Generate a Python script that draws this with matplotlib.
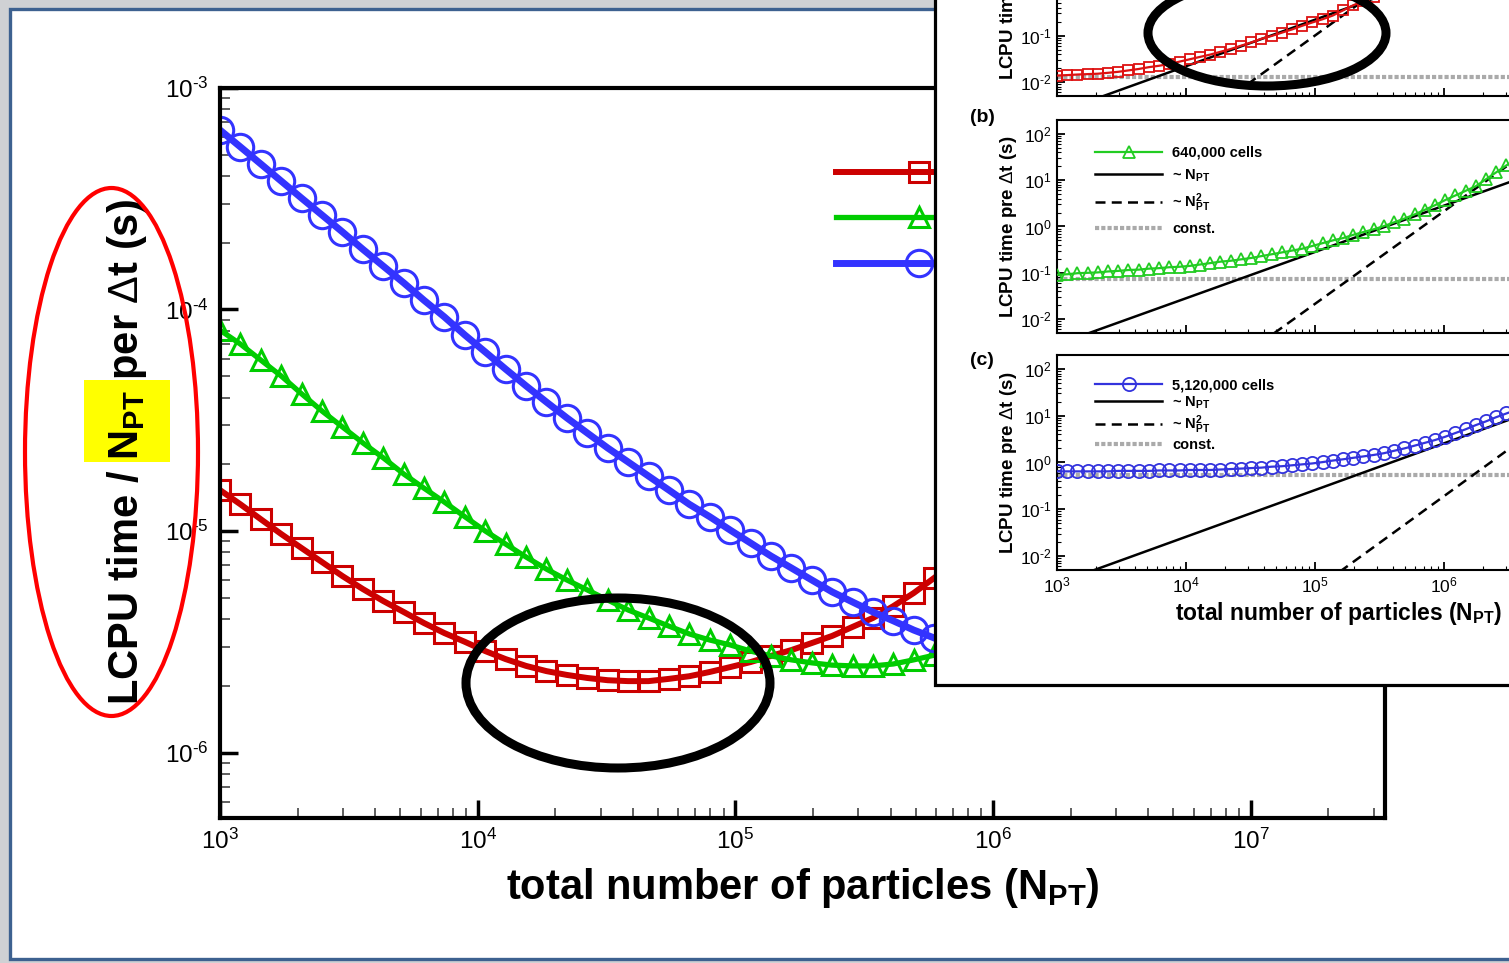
import numpy as np
import matplotlib
matplotlib.use('Agg')
import matplotlib.pyplot as plt
from matplotlib.patches import Ellipse, Rectangle
from matplotlib.ticker import FuncFormatter

plt.rcParams['font.family'] = ['Liberation Sans', 'DejaVu Sans']
plt.rcParams['mathtext.fontset'] = 'custom'
plt.rcParams['mathtext.rm'] = 'Liberation Sans'
plt.rcParams['mathtext.bf'] = 'Liberation Sans:bold'
plt.rcParams['mathtext.it'] = 'Liberation Sans:italic'
plt.rcParams['axes.unicode_minus'] = False

W, H = 1509, 963

# ---- data ----
n_pt = [1000, 1200, 1440, 1728, 2074, 2488, 2986, 3583, 4300, 5160,
        6192, 7430, 8916, 10699, 12839, 15407, 18488, 22186, 26623, 31948,
        38338, 46005, 55206, 66247, 79497, 95396, 114475, 137370, 164845, 197814,
        237376, 284852, 341822, 410186, 492224, 590668, 708802, 850562, 1020675, 1224810,
        1469772, 1763726, 2116471, 2539765, 3047718, 3657262]

cell_labels = ['80,000 cells', '640,000 cells', '5,120,000 cells']

# main chart: LCPU time / N_PT per dt (s)
main_red = [1.53e-5, 1.32e-5, 1.13e-5, 9.69e-6, 8.37e-6, 7.24e-6, 6.26e-6, 5.47e-6, 4.83e-6, 4.31e-6,
            3.84e-6, 3.46e-6, 3.16e-6, 2.87e-6, 2.64e-6, 2.46e-6, 2.33e-6, 2.24e-6, 2.17e-6, 2.12e-6,
            2.10e-6, 2.10e-6, 2.15e-6, 2.21e-6, 2.31e-6, 2.43e-6, 2.56e-6, 2.73e-6, 2.90e-6, 3.12e-6,
            3.36e-6, 3.69e-6, 4.05e-6, 4.58e-6, 5.25e-6, 6.14e-6]
main_green = [8.07e-5, 6.98e-5, 5.91e-5, 5.01e-5, 4.16e-5, 3.48e-5, 2.95e-5, 2.50e-5, 2.14e-5, 1.81e-5,
              1.56e-5, 1.35e-5, 1.16e-5, 1.00e-5, 8.73e-6, 7.63e-6, 6.73e-6, 6.01e-6, 5.42e-6, 4.88e-6,
              4.40e-6, 4.05e-6, 3.72e-6, 3.43e-6, 3.22e-6, 3.06e-6, 2.87e-6, 2.73e-6, 2.62e-6, 2.54e-6,
              2.48e-6, 2.46e-6, 2.46e-6, 2.51e-6, 2.62e-6, 2.75e-6]
main_blue = [6.46e-4, 5.42e-4, 4.54e-4, 3.80e-4, 3.18e-4, 2.67e-4, 2.24e-4, 1.87e-4, 1.57e-4, 1.32e-4,
             1.10e-4, 9.25e-5, 7.67e-5, 6.43e-5, 5.38e-5, 4.52e-5, 3.82e-5, 3.24e-5, 2.77e-5, 2.37e-5,
             2.05e-5, 1.77e-5, 1.53e-5, 1.32e-5, 1.16e-5, 1.01e-5, 8.83e-6, 7.71e-6, 6.81e-6, 6.01e-6,
             5.31e-6, 4.78e-6, 4.31e-6, 3.93e-6, 3.57e-6, 3.29e-6]

# inset panels: LCPU time per dt (s)
inset_red = [0.0138, 0.0141, 0.0145, 0.0148, 0.0151, 0.0158, 0.0166, 0.0178, 0.0191, 0.0209,
             0.0224, 0.0245, 0.0275, 0.0309, 0.0347, 0.0389, 0.0447, 0.0513, 0.0603, 0.0708,
             0.0851, 0.0977, 0.115, 0.135, 0.162, 0.191, 0.224, 0.269, 0.347, 0.447,
             0.550, 0.676]
inset_green = [0.091, 0.093, 0.098, 0.100, 0.102, 0.107, 0.110, 0.115, 0.117, 0.123,
               0.126, 0.132, 0.135, 0.141, 0.151, 0.162, 0.174, 0.182, 0.195, 0.209,
               0.229, 0.251, 0.275, 0.302, 0.331, 0.380, 0.437, 0.501, 0.562, 0.661,
               0.759, 0.871, 1.02, 1.23, 1.48, 1.82, 2.29, 2.88, 3.72, 4.68,
               5.89, 7.41, 10.5, 14.8, 20.9, 28.8]
inset_blue = [0.646, 0.646, 0.646, 0.646, 0.646, 0.646, 0.661, 0.661, 0.661, 0.661,
              0.676, 0.676, 0.676, 0.692, 0.692, 0.692, 0.708, 0.724, 0.741, 0.759,
              0.776, 0.813, 0.832, 0.871, 0.912, 0.955, 1.02, 1.10, 1.17, 1.26,
              1.35, 1.45, 1.58, 1.78, 2.00, 2.29, 2.63, 3.02, 3.55, 4.27,
              5.13, 6.31, 7.59, 9.33, 11.2, 13.5]

# guide lines (end points)
lin_x = [1.5e3, 2e7]
lin_y_a = [3.28e-3, 43.8]
lin_y_b = [4.23e-3, 56.4]
lin_y_c = [3.86e-3, 51.4]
quad_x = [3e4, 1e7]
quad_y_a = [9.0e-3, 1000]
quad_y_b = [1.92e-3, 214]
quad_y_c = [1.71e-4, 19.1]
const_x = [1e3, 1e7]
const_a = 0.013
const_b = 0.072
const_c = 0.55


def fx(px):
    return px / W


def fy(py):
    return 1 - py / H


def pow10(v, pos):
    e = int(round(np.log10(v)))
    s = str(e).replace('-', '\u2010')
    return r'$\mathdefault{10^{%s}}$' % s


fig = plt.figure(figsize=(W / 100, H / 100), dpi=100, facecolor='#cfd1d4')

# slide panel
fig.add_artist(Rectangle((fx(9.5), fy(958.5)), fx(1700), (958.5 - 9.5) / H, transform=fig.transFigure,
                         facecolor='white', edgecolor='#3d6190', lw=2.4, zorder=-10))
# yellow highlight behind N_PT
fig.add_artist(Rectangle((fx(84), fy(462)), (170 - 84) / W, (462 - 380) / H, transform=fig.transFigure,
                         facecolor='#ffff00', edgecolor='none', zorder=-5))

# ---- main chart ----
ax = fig.add_axes([fx(220), fy(818), (1385 - 220) / W, (818 - 88) / H])
ax.set_xscale('log')
ax.set_yscale('log')
nm = n_pt[:len(main_red)]
ax.plot(nm, main_red, color='#cc0000', lw=4.3, marker='s', ms=14, mfc='none', mec='#cc0000', mew=2.2,
        label=cell_labels[0])
ax.plot(nm, main_green, color='#00cc00', lw=3.8, marker='^', ms=14, mfc='none', mec='#00cc00', mew=2.2,
        label=cell_labels[1])
ax.plot(nm, main_blue, color='#3333ff', lw=5, marker='o', ms=19, mfc='none', mec='#3333ff', mew=2.2,
        label=cell_labels[2])
ax.set_xlim(1e3, 10 ** (3 + 1165 / 257.7))
ax.set_ylim(10 ** (-3 - 730 / 221.5), 1e-3)
ax.xaxis.set_major_formatter(FuncFormatter(pow10))
ax.yaxis.set_major_formatter(FuncFormatter(pow10))
for s in ax.spines.values():
    s.set_linewidth(3)
ax.tick_params(which='major', direction='in', length=13, width=2.5, labelsize=17.5, pad=8,
               top=False, right=False)
ax.tick_params(which='minor', direction='in', length=7, width=1.2, color='#444444', top=False, right=False)
ax.set_xlabel(r'total number of particles ($\mathbf{N_{PT}}$)', fontsize=30, fontweight='bold')
ax.xaxis.set_label_coords(0.5, -0.066)
ax.set_ylabel(r'LCPU time / $\mathbf{N_{PT}}$ per $\Delta$t (s)', fontsize=30, fontweight='bold')
ax.yaxis.set_label_coords(-0.061, 0.501)
ax.legend(loc='upper left', bbox_to_anchor=((836 - 220) / 1165, (818 - 162) / 730), frameon=False,
          fontsize=20, handlelength=6.0, labelspacing=0.69, borderpad=0, borderaxespad=0,
          handletextpad=0.5, numpoints=1)

# ---- inset ----
fig.add_artist(Rectangle((fx(935), fy(685)), 0.6, 0.8, transform=fig.transFigure,
                         facecolor='white', edgecolor='black', lw=2.3, zorder=2))

panels = [(-118, 96), (120, 333), (355, 570)]
series = [(inset_red, '#dd1111', 's', 7.5), (inset_green, '#22cc22', '^', 8), (inset_blue, '#3333dd', 'o', 9.5)]
lin_ys = [lin_y_a, lin_y_b, lin_y_c]
quad_ys = [quad_y_a, quad_y_b, quad_y_c]
consts = [const_a, const_b, const_c]
leg_tops = [-98, 146, 378]
leg_spacing = [0.52, 0.52, 0.17]

for i, (top, bot) in enumerate(panels):
    a = fig.add_axes([fx(1057), fy(bot), (1573 - 1057) / W, (bot - top) / H], zorder=3)
    a.set_xscale('log')
    a.set_yscale('log')
    vals, col, mk, ms = series[i]
    a.plot(const_x, [consts[i], consts[i]], color='#aaaaaa', lw=3, ls=(0, (1, 0.5)), label='const.', zorder=1)
    a.plot(lin_x, lin_ys[i], color='black', lw=1.8, label=r'~ $\mathbf{N_{PT}}$', zorder=2)
    a.plot(quad_x, quad_ys[i], color='black', lw=1.8, ls=(0, (4, 2.5)), label=r'~ $\mathbf{N_{PT}^{2}}$',
           zorder=2)
    a.plot(n_pt[:len(vals)], vals, color=col, lw=1.6, marker=mk, ms=ms, mfc='none', mec=col, mew=1.3,
           label=cell_labels[i], zorder=3)
    a.set_xlim(1e3, 1e7)
    a.set_ylim(10 ** -2.3, 10 ** 2.3)
    a.xaxis.set_major_formatter(FuncFormatter(pow10))
    a.yaxis.set_major_formatter(FuncFormatter(pow10))
    for s in a.spines.values():
        s.set_linewidth(1.5)
    a.tick_params(which='major', direction='in', length=6, width=1.3, labelsize=12.5, pad=4,
                  top=False, right=False)
    a.tick_params(which='minor', direction='in', length=3, width=0.8, top=False, right=False)
    a.set_ylabel(r'LCPU time pre $\Delta$t (s)', fontsize=13.5, fontweight='bold')
    a.yaxis.set_label_coords(-0.074, 0.5)
    if i < 2:
        a.tick_params(axis='x', which='both', labelbottom=False)
    else:
        a.set_xlabel(r'total number of particles ($\mathbf{N_{PT}}$)', fontsize=16.5, fontweight='bold')
        a.xaxis.set_label_coords(0.545, -0.14)
    h, l = a.get_legend_handles_labels()
    order = [3, 1, 2, 0]
    a.legend([h[j] for j in order], [l[j] for j in order], loc='upper left',
             bbox_to_anchor=((1095 - 1057) / 516, (bot - leg_tops[i]) / (bot - top)), frameon=False,
             prop={'size': 10.5, 'weight': 'bold'}, handlelength=4.6, labelspacing=leg_spacing[i],
             borderpad=0, borderaxespad=0, handletextpad=0.7, numpoints=1)

fig.text(fx(982), fy(118), '(b)', fontsize=14, fontweight='bold', ha='center', va='center', zorder=5)
fig.text(fx(982), fy(360), '(c)', fontsize=14, fontweight='bold', ha='center', va='center', zorder=5)

# annotation ellipses
fig.add_artist(Ellipse((fx(111.5), fy(452)), 173 / W, 528 / H, transform=fig.transFigure,
                       fill=False, edgecolor='#ff0000', lw=3, zorder=20))
fig.add_artist(Ellipse((fx(618), fy(683)), 304 / W, 170 / H, transform=fig.transFigure,
                       fill=False, edgecolor='black', lw=6.5, zorder=20))
fig.add_artist(Ellipse((fx(1267), fy(33)), 238 / W, 106 / H, transform=fig.transFigure,
                       fill=False, edgecolor='black', lw=6.5, zorder=20))

fig.savefig('out.png', dpi=100)
